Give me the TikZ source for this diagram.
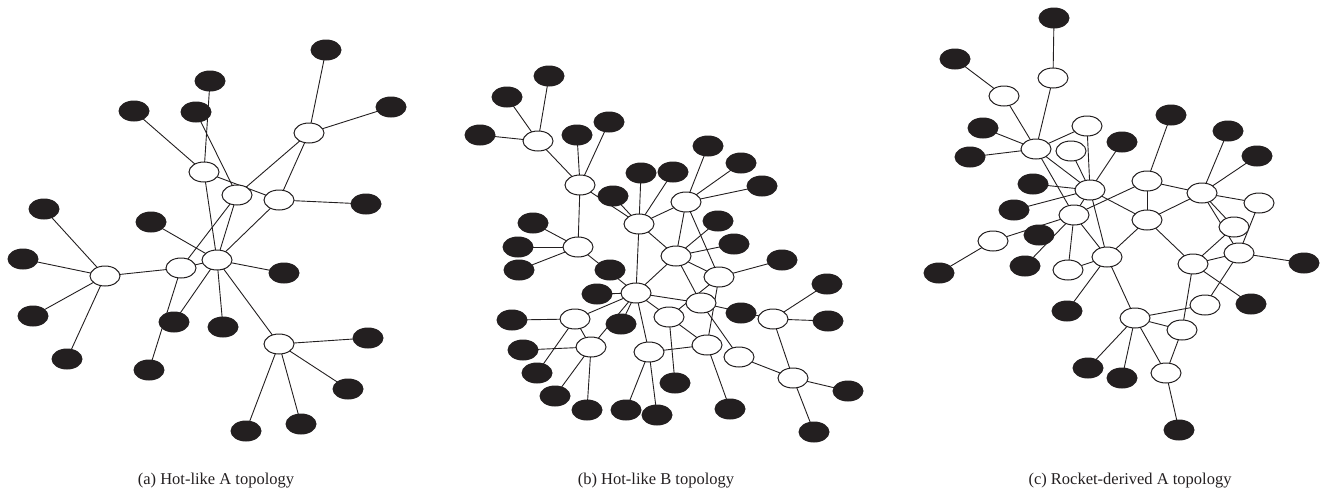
\documentclass[tikz,border=0pt]{standalone}
\usepackage{fontspec}
\setmainfont{Liberation Serif}
\usetikzlibrary{shapes.geometric,backgrounds}
\definecolor{ink}{HTML}{231F20}
\begin{document}
\begin{tikzpicture}[x=1pt,y=-1pt,
  wn/.style={ellipse,draw=ink,line width=1pt,fill=white,minimum width=30,minimum height=20,inner sep=0pt},
  bn/.style={ellipse,fill=ink,minimum width=31,minimum height=21,inner sep=0pt},
  ed/.style={draw=ink,line width=0.9pt},
  captext/.style={font=\fontsize{16.5}{19}\selectfont,text=ink}]
\useasboundingbox (0,0) rectangle (1325,499);
% ---------------- panel (a)
\node[wn] (a1) at (204,172) {};
\node[wn] (a2) at (309,133) {};
\node[wn] (a3) at (237,195) {};
\node[wn] (a4) at (279,200) {};
\node[wn] (ah) at (217,260) {};
\node[wn] (a5) at (181,268) {};
\node[wn] (a6) at (105,276) {};
\node[wn] (a7) at (279,344) {};
\node[bn] (ab1) at (210,81) {};
\node[bn] (ab2) at (134,111) {};
\node[bn] (ab3) at (196,112) {};
\node[bn] (ab4) at (326,50) {};
\node[bn] (ab5) at (391,107) {};
\node[bn] (ab6) at (366,204) {};
\node[bn] (ab7) at (44,209) {};
\node[bn] (ab8) at (151,222) {};
\node[bn] (ab9) at (23,259) {};
\node[bn] (ab10) at (33,316) {};
\node[bn] (ab11) at (67,359) {};
\node[bn] (ab12) at (174,322) {};
\node[bn] (ab13) at (149,370) {};
\node[bn] (ab14) at (223,327) {};
\node[bn] (ab15) at (284,273) {};
\node[bn] (ab16) at (368,338) {};
\node[bn] (ab17) at (348,389) {};
\node[bn] (ab18) at (301,424) {};
\node[bn] (ab19) at (246,431) {};
% ---------------- panel (b)
\node[wn] (b1) at (538,141) {};
\node[wn] (b2) at (580,185) {};
\node[wn] (b3) at (578,247) {};
\node[wn] (b4) at (639,224) {};
\node[wn] (b5) at (686,202) {};
\node[wn] (b6) at (676,256) {};
\node[wn] (b7) at (719,277) {};
\node[wn] (bh) at (636,293) {};
\node[wn] (b9) at (669,317) {};
\node[wn] (b10) at (701,303) {};
\node[wn] (b11) at (773,319) {};
\node[wn] (b12) at (575,319) {};
\node[wn] (b13) at (591,347) {};
\node[wn] (b14) at (649,352) {};
\node[wn] (b15) at (707,345) {};
\node[wn] (b16) at (739,357) {};
\node[wn] (b17) at (793,378) {};
\node[bn] (bb1) at (549,76) {};
\node[bn] (bb2) at (507,97) {};
\node[bn] (bb3) at (480,135) {};
\node[bn] (bb4) at (577,135) {};
\node[bn] (bb5) at (609,122) {};
\node[bn] (bb6) at (613,196) {};
\node[bn] (bb7) at (641,173) {};
\node[bn] (bb8) at (673,172) {};
\node[bn] (bb9) at (708,146) {};
\node[bn] (bb10) at (741,163) {};
\node[bn] (bb11) at (762,186) {};
\node[bn] (bb12) at (718,221) {};
\node[bn] (bb13) at (734,244) {};
\node[bn] (bb14) at (782,260) {};
\node[bn] (bb15) at (827,284) {};
\node[bn] (bb16) at (828,321) {};
\node[bn] (bb17) at (741,313) {};
\node[bn] (bb18) at (533,223) {};
\node[bn] (bb19) at (518,247) {};
\node[bn] (bb20) at (519,270) {};
\node[bn] (bb21) at (610,270) {};
\node[bn] (bb22) at (597,294) {};
\node[bn] (bb23) at (621,324) {};
\node[bn] (bb24) at (512,320) {};
\node[bn] (bb25) at (523,350) {};
\node[bn] (bb26) at (537,373) {};
\node[bn] (bb27) at (555,396) {};
\node[bn] (bb28) at (587,410) {};
\node[bn] (bb29) at (626,410) {};
\node[bn] (bb30) at (657,415) {};
\node[bn] (bb31) at (675,383) {};
\node[bn] (bb32) at (730,409) {};
\node[bn] (bb33) at (848,391) {};
\node[bn] (bb34) at (814,432) {};
% ---------------- panel (c)
\node[wn] (c1) at (1053,78) {};
\node[wn] (c2) at (1004,96) {};
\node[wn] (c3) at (1036,149) {};
\node[wn] (c4) at (1087,126) {};
\node[wn] (c5) at (1071,151) {};
\node[wn] (c6) at (1090,190) {};
\node[wn] (c7) at (1074,215) {};
\node[wn] (c8) at (993,241) {};
\node[wn] (c9) at (1068,270) {};
\node[wn] (c10) at (1107,257) {};
\node[wn] (c11) at (1147,181) {};
\node[wn] (c12) at (1147,220) {};
\node[wn] (c13) at (1202,193) {};
\node[wn] (c14) at (1259,203) {};
\node[wn] (c15) at (1234,227) {};
\node[wn] (c16) at (1239,253) {};
\node[wn] (c17) at (1193,264) {};
\node[wn] (c18) at (1205,305) {};
\node[wn] (c19) at (1135,318) {};
\node[wn] (c20) at (1182,330) {};
\node[wn] (c21) at (1166,373) {};
\node[bn] (cb1) at (1054,18) {};
\node[bn] (cb2) at (955,59) {};
\node[bn] (cb3) at (983,128) {};
\node[bn] (cb4) at (970,157) {};
\node[bn] (cb5) at (1122,142) {};
\node[bn] (cb6) at (1033,184) {};
\node[bn] (cb7) at (1014,210) {};
\node[bn] (cb8) at (1039,235) {};
\node[bn] (cb9) at (939,273) {};
\node[bn] (cb10) at (1025,266) {};
\node[bn] (cb11) at (1067,311) {};
\node[bn] (cb12) at (1088,368) {};
\node[bn] (cb13) at (1122,378) {};
\node[bn] (cb14) at (1171,115) {};
\node[bn] (cb15) at (1228,131) {};
\node[bn] (cb16) at (1257,156) {};
\node[bn] (cb17) at (1304,263) {};
\node[bn] (cb18) at (1251,304) {};
\node[bn] (cb19) at (1179,430) {};
% ---------------- edges
\begin{pgfonlayer}{background}
\foreach \u/\v in {a1/ab2,a1/ab1,ab3/a3,a1/a4,a1/ah,a2/ab4,a2/ab5,a2/a3,a2/a4,a4/ab6,a4/ah,a3/ah,a3/a5,ab8/ah,a6/a5,a5/ah,a5/ab13,ah/ab12,ah/ab14,ah/ab15,ah/a7,a7/ab16,a7/ab17,a7/ab18,a7/ab19,a6/ab9,a6/ab10,a6/ab11,a6/ab7}
  \draw[ed] (\u.center) -- (\v.center);
\foreach \u/\v in {b1/bb1,b1/bb2,b1/bb3,b1/b2,b2/bb4,b2/bb5,b2/b4,bb6/b4,b2/b3,b3/bb18,b3/bb19,b3/bb20,b3/bh,b4/bb7,b4/bb8,b4/b5,b4/bh,b4/b6,b5/bb9,b5/bb10,b5/bb11,b5/b6,b5/b7,b6/bb12,b6/bb13,b6/b7,b6/bh,b6/b10,b7/bb14,b7/b15,b7/b9,bh/b10,b10/b11,b10/b16,b9/b15,b9/bb31,bh/b9,bh/b14,b14/b15,b14/bb29,b14/bb30,b15/bb32,b16/b17,b17/b11,b11/bb15,b11/bb16,b17/bb33,b17/bb34,bh/bb22,bh/bb23,bh/b13,bh/b12,b12/bb24,b12/b13,b12/bb26,b13/bb25,b13/bb27,b13/bb28}
  \draw[ed] (\u.center) -- (\v.center);
\foreach \u/\v in {cb1/c1,c1/c3,cb2/c2,c2/c3,cb3/c3,cb4/c3,c3/c4,c3/c6,c3/c7,c4/c6,c5/c6,cb5/c6,c6/cb6,c6/cb7,c6/c7,c7/c11,c6/c12,c6/c10,c8/c7,c8/cb9,c7/cb10,c7/c9,c7/c10,c9/c10,c10/cb11,c10/c19,c10/c12,c11/c12,c11/cb14,c11/c13,c12/c13,c12/c17,c13/cb15,c13/cb16,c13/c14,c13/c15,c13/c16,c14/c16,c15/c17,c16/c17,c16/cb17,c16/c18,c17/cb18,c17/c20,c18/c19,c19/c20,c20/c21,c19/c21,c19/cb12,c19/cb13,c21/cb19}
  \draw[ed] (\u.center) -- (\v.center);
\end{pgfonlayer}
% ---------------- captions
\node[captext] (capa) at (216,481) {(a) Hot-like A topology};
\node[captext] (capb) at (656,481) {(b) Hot-like B topology};
\node[captext] (capc) at (1130,481) {(c) Rocket-derived A topology};
\end{tikzpicture}
\end{document}
